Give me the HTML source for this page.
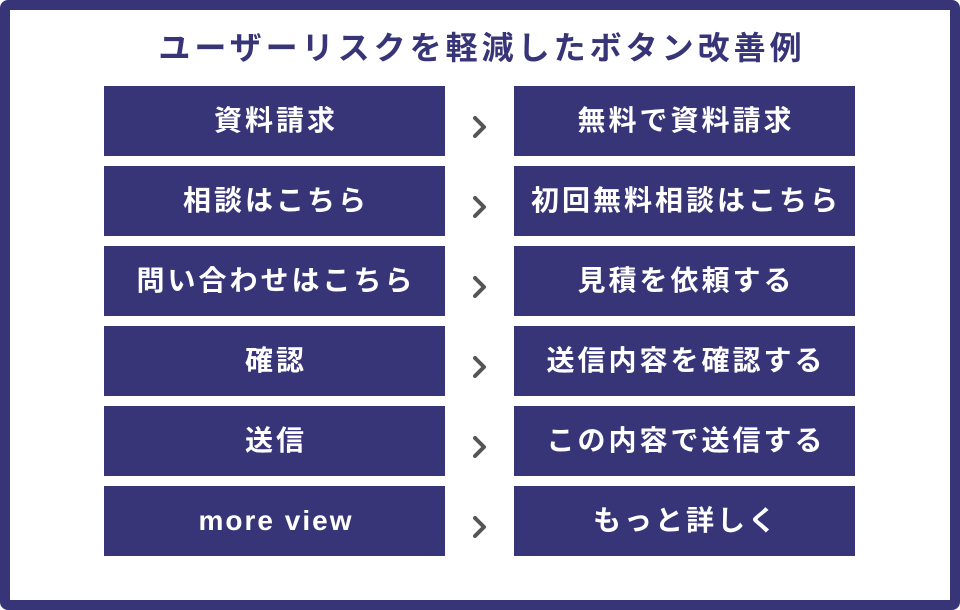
<!DOCTYPE html>
<html><head><meta charset="utf-8"><style>
body{margin:0;width:960px;height:610px;overflow:hidden;background:#fff;font-family:"Liberation Sans","Noto Sans CJK JP",sans-serif}
.frame{position:absolute;left:0;top:0;width:940px;height:590px;border:10px solid #373577;border-radius:8px;background:#fff}
.t{position:absolute;left:0;width:960px;top:26px;text-align:center;font-size:32px;font-weight:bold;color:#373577;line-height:44px;letter-spacing:4px;text-indent:4px}
.b{position:absolute;width:341px;height:70px;background:#373577;color:#fff;font-weight:bold;font-size:28px;line-height:70px;text-align:center;letter-spacing:3px;text-indent:3px}
.c{position:absolute;left:472px;width:16px;height:24px}
</style></head><body>
<div class="frame"></div>
<div class="t">ユーザーリスクを軽減したボタン改善例</div>
<div class="b" style="left:104px;top:86px">資料請求</div><div class="b" style="left:514px;top:86px">無料で資料請求</div>
<div class="b" style="left:104px;top:166px">相談はこちら</div><div class="b" style="left:514px;top:166px">初回無料相談はこちら</div>
<div class="b" style="left:104px;top:246px">問い合わせはこちら</div><div class="b" style="left:514px;top:246px">見積を依頼する</div>
<div class="b" style="left:104px;top:326px">確認</div><div class="b" style="left:514px;top:326px">送信内容を確認する</div>
<div class="b" style="left:104px;top:406px">送信</div><div class="b" style="left:514px;top:406px">この内容で送信する</div>
<div class="b" style="left:104px;top:486px;letter-spacing:2px">more view</div><div class="b" style="left:514px;top:486px">もっと詳しく</div>
<svg class="c" style="top:115px" viewBox="0 0 16 24"><path d="M3 3 L12 12 L3 21" fill="none" stroke="#555" stroke-width="4" stroke-linecap="round" stroke-linejoin="round"/></svg>
<svg class="c" style="top:195px" viewBox="0 0 16 24"><path d="M3 3 L12 12 L3 21" fill="none" stroke="#555" stroke-width="4" stroke-linecap="round" stroke-linejoin="round"/></svg>
<svg class="c" style="top:275px" viewBox="0 0 16 24"><path d="M3 3 L12 12 L3 21" fill="none" stroke="#555" stroke-width="4" stroke-linecap="round" stroke-linejoin="round"/></svg>
<svg class="c" style="top:355px" viewBox="0 0 16 24"><path d="M3 3 L12 12 L3 21" fill="none" stroke="#555" stroke-width="4" stroke-linecap="round" stroke-linejoin="round"/></svg>
<svg class="c" style="top:435px" viewBox="0 0 16 24"><path d="M3 3 L12 12 L3 21" fill="none" stroke="#555" stroke-width="4" stroke-linecap="round" stroke-linejoin="round"/></svg>
<svg class="c" style="top:515px" viewBox="0 0 16 24"><path d="M3 3 L12 12 L3 21" fill="none" stroke="#555" stroke-width="4" stroke-linecap="round" stroke-linejoin="round"/></svg>
</body></html>
